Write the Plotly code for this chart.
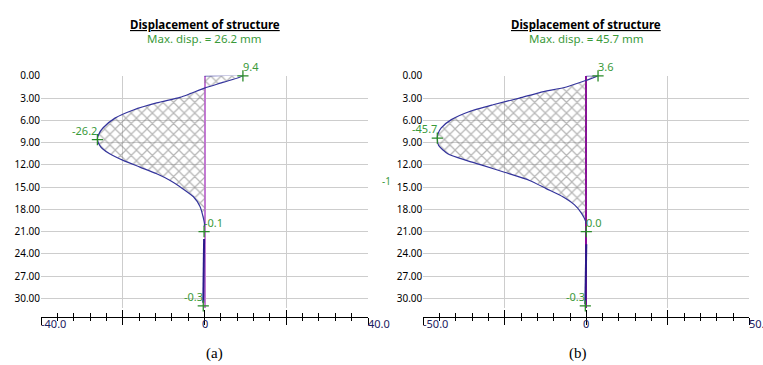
import plotly.graph_objects as go

# ---- data ----
# (a) displacement [mm] against depth [m]
depth_a = [0.0, 0.0, 0.85, 1.65, 2.4, 2.9, 3.65, 4.6, 5.7, 7.0, 7.9, 8.6, 9.4,
           9.9, 10.55, 11.4, 12.3, 13.2, 14.1, 14.95, 16.3, 17.6, 19.1, 20.0, 20.3]
disp_a = [0.0, 9.4, 4.7, 0.0, -3.5, -6.0, -11.7, -17.4, -21.9, -24.8, -25.9, -26.2, -25.6,
          -24.8, -23.1, -19.9, -15.8, -11.7, -8.4, -6.0, -2.7, -1.1, -0.3, 0.0, -0.1]
pile_depth_a = [22.0, 30.6]
pile_disp_a = [-0.1, -0.3]
peak_depth_a = [0.0, 8.6, 21.0, 31.0]
peak_disp_a = [9.4, -26.2, -0.1, -0.3]
peak_text_a = ["9.4", "-26.2", "-0.1", "-0.3"]

# (b)
depth_b = [0.0, 0.0, 0.6, 1.5, 2.25, 3.0, 3.9, 4.8, 5.9, 7.0, 7.8, 8.4, 9.4, 10.5,
           11.4, 12.1, 13.0, 14.1, 15.2, 16.3, 17.4, 18.5, 19.6, 20.0]
disp_b = [0.0, 3.6, 0.0, -6.1, -14.3, -20.5, -28.6, -35.8, -41.4, -44.5, -45.5, -45.7, -45.3, -42.5,
          -36.8, -31.5, -25.1, -17.4, -12.3, -7.2, -3.6, -1.5, -0.2, 0.0]
pile_depth_b = [22.7, 30.8]
pile_disp_b = [0.0, -0.3]
peak_depth_b = [0.0, 8.4, 21.0, 31.0]
peak_disp_b = [3.6, -45.7, 0.0, -0.3]
peak_text_b = ["3.6", "-45.7", "0.0", "-0.3"]

max_disp = [26.2, 45.7]
x_limits = [40, 50]
depth_ticks = [0, 3, 6, 9, 12, 15, 18, 21, 24, 27, 30]
captions = ["(a)", "(b)"]

W, H = 763, 365
FONT = "Noto Sans"
GREEN = "#3a9a3a"
CURVE = "#34349c"
GRID = "#cdcdcd"


def py(px):
    return 1 - px / H


fig = go.Figure()

panels = [
    dict(depth=depth_a, disp=disp_a, pdep=pile_depth_a, pdisp=pile_disp_a,
         kdep=peak_depth_a, kdisp=peak_disp_a, ktext=peak_text_a),
    dict(depth=depth_b, disp=disp_b, pdep=pile_depth_b, pdisp=pile_disp_b,
         kdep=peak_depth_b, kdisp=peak_disp_b, ktext=peak_text_b),
]
label_side = ["left", "right", "left", "right"]  # xanchor of each peak label
x_dom = [[41 / W, 368 / W], [423.3 / W, 749.3 / W]]
y_dom = [py(306.9), py(70.2)]
zero_col = ["#c47ad4", "#8a0a9a"]

for i, p in enumerate(panels):
    xa = "x" if i == 0 else "x2"
    ya = "y" if i == 0 else "y2"
    fig.add_trace(go.Scatter(
        x=p["disp"], y=p["depth"], xaxis=xa, yaxis=ya, mode="lines",
        line=dict(color=CURVE, width=1.2, shape="spline", smoothing=0.6), fill="tozerox",
        fillcolor="rgba(0,0,0,0)",
        fillpattern=dict(shape="x", fgcolor="#6e6e6e", bgcolor="rgba(0,0,0,0)",
                         size=7.5, solidity=0.3),
        showlegend=False, hoverinfo="skip"))
    fig.add_trace(go.Scatter(
        x=p["pdisp"], y=p["pdep"], xaxis=xa, yaxis=ya, mode="lines",
        line=dict(color="#2a1a8a", width=2), showlegend=False, hoverinfo="skip"))
    fig.add_trace(go.Scatter(
        x=p["kdisp"], y=p["kdep"], xaxis=xa, yaxis=ya, mode="markers",
        marker=dict(symbol="cross-thin", size=8, line=dict(color="#2a8a2a", width=1.3)),
        cliponaxis=False, showlegend=False, hoverinfo="skip"))
    for xv, yv, txt, side in zip(p["kdisp"], p["kdep"], p["ktext"], label_side):
        fig.add_annotation(x=xv, y=yv, xref=xa, yref=ya, text=txt, showarrow=False,
                           xanchor=side, yanchor="bottom", borderpad=0,
                           xshift=-1 if side == "left" else 1, yshift=1,
                           font=dict(family=FONT, size=11, color=GREEN))

    lim = x_limits[i]
    dt = lim / 2
    common_y = dict(domain=y_dom, range=[31.3, 0], tickvals=depth_ticks,
                    ticktext=[f"{v:.2f}" for v in depth_ticks], showgrid=True,
                    gridcolor=GRID, gridwidth=1, zeroline=False, showline=False,
                    ticks="", tickfont=dict(family=FONT, size=10, color="#000"),
                    anchor=xa)
    common_x = dict(domain=x_dom[i], range=[-lim, lim], tick0=0, dtick=dt,
                    showgrid=True, gridcolor=GRID, gridwidth=1, zeroline=True,
                    zerolinecolor=zero_col[i], zerolinewidth=1.6,
                    showticklabels=False, ticks="", showline=False, anchor=ya)
    fig.layout["yaxis" if i == 0 else "yaxis2"] = common_y
    fig.layout["xaxis" if i == 0 else "xaxis2"] = common_x

    # ruler axis below each panel: ticks both up and down
    for j, (tdir, mlen) in enumerate([("outside", 3), ("inside", 4)]):
        name = f"xaxis{3 + 2 * i + j}"
        fig.layout[name] = dict(
            overlaying=xa, anchor="free", position=py(315.7), side="bottom",
            range=[-lim, lim], tick0=0, dtick=dt, ticks=tdir, ticklen=7,
            tickwidth=1, tickcolor="#000", showline=True, linecolor="#000",
            linewidth=1, showgrid=False, zeroline=False, showticklabels=False,
            minor=dict(ticks=tdir, ticklen=mlen, tick0=0, dtick=lim / 10,
                       tickcolor="#000", showgrid=False))
        fig.add_trace(go.Scatter(x=[], y=[], xaxis=f"x{3 + 2 * i + j}", yaxis=ya,
                                 showlegend=False, hoverinfo="skip"))

    # ruler tick labels
    for val, anchor, txt in [(-lim, "left", f"{-lim:.1f}"), (0, "center", "0"),
                             (lim, "left", f"{lim:.1f}")]:
        fig.add_annotation(x=val, y=py(323), xref=xa, yref="paper", text=txt,
                           xanchor=anchor, yanchor="middle", showarrow=False,
                           xshift=-2 if anchor == "left" else 0,
                           font=dict(family=FONT, size=11, color="#1a2060"))

    cx = (x_dom[i][0] + x_dom[i][1]) / 2
    fig.add_annotation(x=cx, y=py(18.3), xref="paper", yref="paper",
                       text="<u><b>Displacement of structure</b></u>", showarrow=False,
                       xanchor="center", yanchor="middle",
                       font=dict(family=FONT, size=11.5, color="#000"))
    fig.add_annotation(x=cx, y=py(32.3), xref="paper", yref="paper",
                       text=f"Max. disp. = {max_disp[i]} mm", showarrow=False,
                       xanchor="center", yanchor="middle",
                       font=dict(family=FONT, size=11.5, color=GREEN))

fig.add_annotation(x=214 / W, y=py(353), xref="paper", yref="paper", text=captions[0],
                   showarrow=False, xanchor="center", yanchor="middle",
                   font=dict(family="Liberation Serif", size=15, color="#000"))
fig.add_annotation(x=578 / W, y=py(353), xref="paper", yref="paper", text=captions[1],
                   showarrow=False, xanchor="center", yanchor="middle",
                   font=dict(family="Liberation Serif", size=15, color="#000"))
# clipped remnant from the neighbouring figure
fig.add_annotation(x=386 / W, y=py(177), xref="paper", yref="paper", text="-1",
                   showarrow=False, xanchor="center", yanchor="middle",
                   font=dict(family=FONT, size=10, color=GREEN))

fig.update_layout(width=W, height=H, margin=dict(l=0, r=0, t=0, b=0),
                  paper_bgcolor="white", plot_bgcolor="white")

fig.write_html("out.html", config={"displayModeBar": False},
               post_script="document.body.style.margin='0';"
                           "document.body.style.overflow='hidden';")
